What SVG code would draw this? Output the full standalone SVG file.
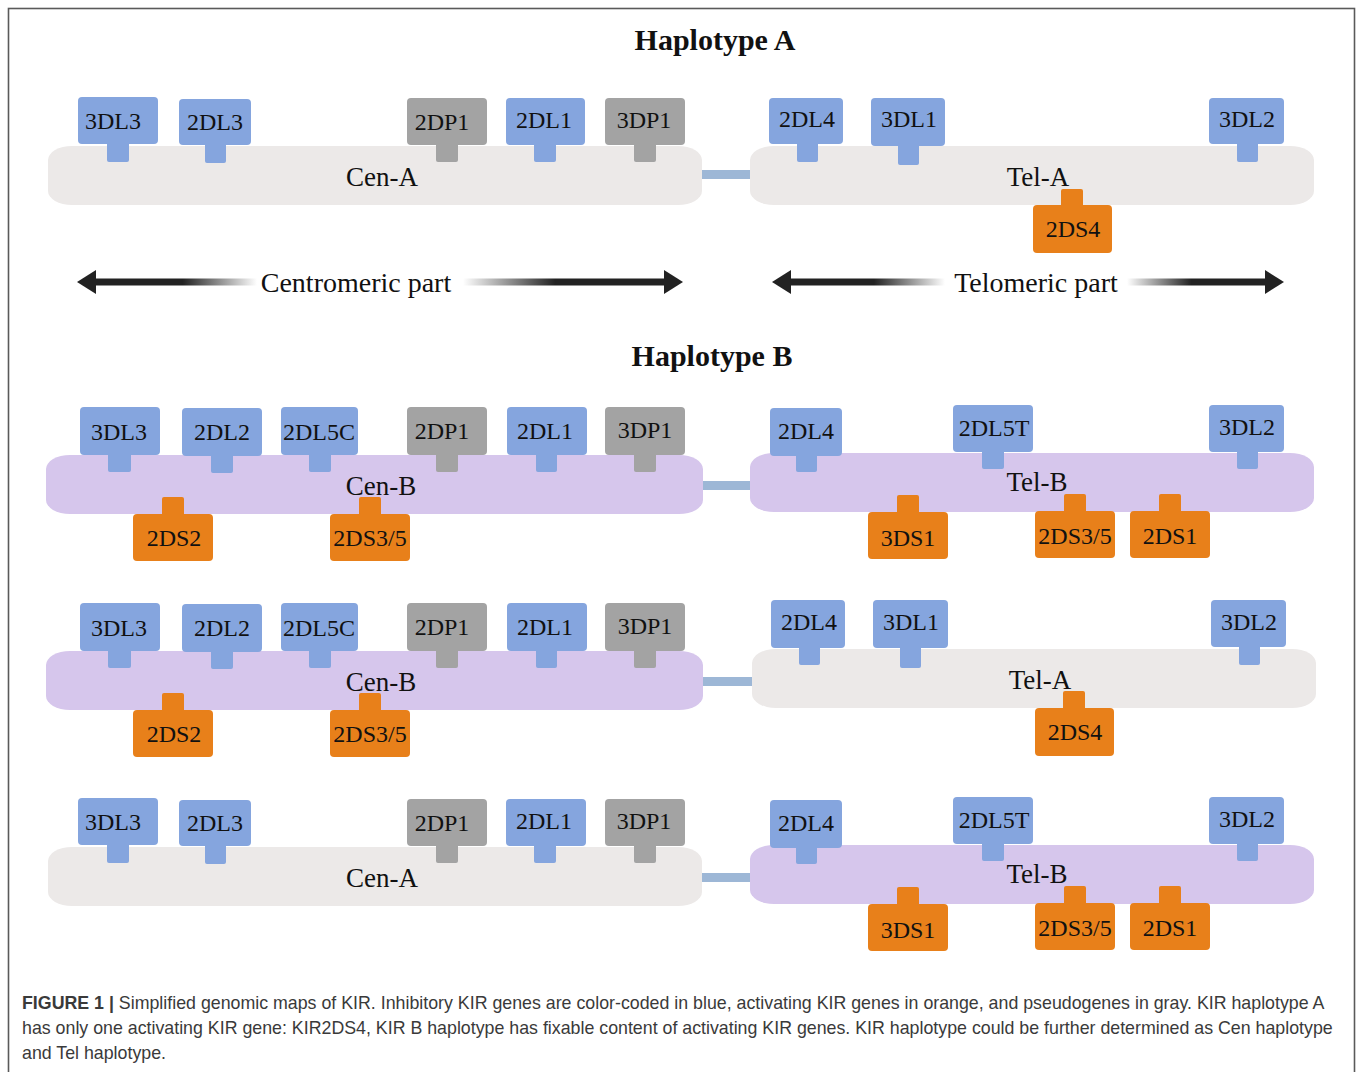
<svg xmlns="http://www.w3.org/2000/svg" width="1358" height="1072" viewBox="0 0 1358 1072">
<style>
.bg{fill:#ffffff}
.frame{fill:none;stroke:#5a5a5a;stroke-width:1.6}
.barA{fill:#ece9e8}
.barB{fill:#d6c6ec}
.b{fill:#85a5de}
.g{fill:#a3a3a3}
.o{fill:#e8801a}
.lnk{fill:#9db7d6}
.gl{font-family:"Liberation Serif","Times New Roman",serif;font-size:24px;fill:#111;text-anchor:middle}
.bl{font-family:"Liberation Serif","Times New Roman",serif;font-size:27px;fill:#111;text-anchor:middle}
.title{font-family:"Liberation Serif","Times New Roman",serif;font-size:30px;font-weight:bold;fill:#111;text-anchor:middle}
.part{font-family:"Liberation Serif","Times New Roman",serif;font-size:28px;fill:#111;text-anchor:middle}
.cap{font-family:"Liberation Sans",Arial,sans-serif;font-size:17.8px;fill:#3a3a3a}
.capb{font-weight:bold}
.ah{fill:#222}
</style>
<defs>
<linearGradient id="fadeR" x1="0" y1="0" x2="1" y2="0">
<stop offset="0" stop-color="#222"/>
<stop offset="0.55" stop-color="#222"/>
<stop offset="1" stop-color="#fff"/>
</linearGradient>
<linearGradient id="fadeL" x1="0" y1="0" x2="1" y2="0">
<stop offset="0" stop-color="#fff"/>
<stop offset="0.45" stop-color="#222"/>
<stop offset="1" stop-color="#222"/>
</linearGradient>
</defs>
<rect class="bg" x="0" y="0" width="1358" height="1072"/>
<rect class="frame" x="8.5" y="8.5" width="1346" height="1080"/>

<text class="title" x="715" y="50">Haplotype A</text>
<text class="title" x="712" y="366">Haplotype B</text>

<g id="connectors">
<rect class="lnk" x="700" y="170" width="52" height="9"/>
<rect class="lnk" x="701" y="481" width="51" height="9"/>
<rect class="lnk" x="701" y="677" width="53" height="9"/>
<rect class="lnk" x="700" y="873" width="52" height="9"/>
<g id="centromeric-arrows">
<rect x="92" y="278.5" width="165" height="7" fill="url(#fadeR)"/>
<polygon class="ah" points="77,282 96,270 96,294"/>
<rect x="463" y="278.5" width="205" height="7" fill="url(#fadeL)"/>
<polygon class="ah" points="683,282 664,270 664,294"/>
</g>
<g id="telomeric-arrows">
<rect x="787" y="278.5" width="158" height="7" fill="url(#fadeR)"/>
<polygon class="ah" points="772,282 791,270 791,294"/>
<rect x="1127" y="278.5" width="143" height="7" fill="url(#fadeL)"/>
<polygon class="ah" points="1284,282 1265,270 1265,294"/>
</g>
</g>
<text class="part" x="356" y="292">Centromeric part</text>
<text class="part" x="1036" y="292">Telomeric part</text>

<!-- Haplotype A -->
<g id="cenA1"><rect class="barA" x="48" y="146" width="654" height="59" rx="24" ry="14"/><text class="bl" x="382" y="186">Cen-A</text></g>
<g id="telA1"><rect class="barA" x="750" y="146" width="564" height="59" rx="24" ry="14"/><text class="bl" x="1038" y="186">Tel-A</text></g>
<g id="a-3DL3"><rect class="b" x="107" y="140" width="22" height="22" rx="2"/><rect class="b" x="78" y="97" width="80" height="47" rx="4"/><text class="gl" x="113" y="129">3DL3</text></g>
<g id="a-2DL3"><rect class="b" x="205" y="140" width="21" height="23" rx="2"/><rect class="b" x="179" y="99" width="72" height="46" rx="4"/><text class="gl" x="215" y="130">2DL3</text></g>
<g id="a-2DP1"><rect class="g" x="436" y="140" width="22" height="22" rx="2"/><rect class="g" x="407" y="98" width="80" height="47" rx="4"/><text class="gl" x="442" y="130">2DP1</text></g>
<g id="a-2DL1"><rect class="b" x="534" y="140" width="22" height="22" rx="2"/><rect class="b" x="506" y="98" width="79" height="47" rx="4"/><text class="gl" x="544" y="128">2DL1</text></g>
<g id="a-3DP1"><rect class="g" x="634" y="140" width="22" height="22" rx="2"/><rect class="g" x="605" y="98" width="80" height="47" rx="4"/><text class="gl" x="644" y="128">3DP1</text></g>
<g id="a-2DL4"><rect class="b" x="797" y="140" width="21" height="22" rx="2"/><rect class="b" x="769" y="98" width="74" height="46" rx="4"/><text class="gl" x="807" y="127">2DL4</text></g>
<g id="a-3DL1"><rect class="b" x="898" y="140" width="21" height="25" rx="2"/><rect class="b" x="871" y="98" width="74" height="48" rx="4"/><text class="gl" x="909" y="127">3DL1</text></g>
<g id="a-3DL2"><rect class="b" x="1237" y="140" width="21" height="22" rx="2"/><rect class="b" x="1209" y="98" width="75" height="46" rx="4"/><text class="gl" x="1247" y="127">3DL2</text></g>
<g id="a-2DS4"><rect class="o" x="1061" y="189" width="22" height="20" rx="2"/><rect class="o" x="1033" y="205" width="79" height="48" rx="4"/><text class="gl" x="1073" y="237">2DS4</text></g>

<!-- Haplotype B row 1 -->
<g id="cenB1"><rect class="barB" x="46" y="455" width="657" height="59" rx="24" ry="14"/><text class="bl" x="381" y="495">Cen-B</text></g>
<g id="telB1"><rect class="barB" x="750" y="453" width="564" height="59" rx="24" ry="14"/><text class="bl" x="1037" y="491">Tel-B</text></g>
<g id="b1-3DL3"><rect class="b" x="108" y="450" width="23" height="22" rx="2"/><rect class="b" x="80" y="407" width="80" height="48" rx="4"/><text class="gl" x="119" y="440">3DL3</text></g>
<g id="b1-2DL2"><rect class="b" x="211" y="450" width="22" height="23" rx="2"/><rect class="b" x="182" y="408" width="80" height="48" rx="4"/><text class="gl" x="222" y="440">2DL2</text></g>
<g id="b1-2DL5C"><rect class="b" x="309" y="450" width="22" height="22" rx="2"/><rect class="b" x="281" y="407" width="77" height="48" rx="4"/><text class="gl" x="319" y="440">2DL5C</text></g>
<g id="b1-2DP1"><rect class="g" x="436" y="450" width="22" height="22" rx="2"/><rect class="g" x="407" y="407" width="80" height="48" rx="4"/><text class="gl" x="442" y="439">2DP1</text></g>
<g id="b1-2DL1"><rect class="b" x="536" y="450" width="21" height="22" rx="2"/><rect class="b" x="507" y="407" width="80" height="48" rx="4"/><text class="gl" x="545" y="439">2DL1</text></g>
<g id="b1-3DP1"><rect class="g" x="634" y="450" width="22" height="22" rx="2"/><rect class="g" x="605" y="407" width="80" height="48" rx="4"/><text class="gl" x="645" y="438">3DP1</text></g>
<g id="b1-2DS2"><rect class="o" x="162" y="497" width="22" height="21" rx="2"/><rect class="o" x="133" y="514" width="80" height="47" rx="4"/><text class="gl" x="174" y="546">2DS2</text></g>
<g id="b1-2DS35"><rect class="o" x="359" y="497" width="22" height="21" rx="2"/><rect class="o" x="330" y="514" width="80" height="47" rx="4"/><text class="gl" x="370" y="546">2DS3/5</text></g>
<g id="b1-2DL4"><rect class="b" x="796" y="450" width="21" height="22" rx="2"/><rect class="b" x="770" y="408" width="72" height="48" rx="4"/><text class="gl" x="806" y="439">2DL4</text></g>
<g id="b1-2DL5T"><rect class="b" x="982" y="447" width="22" height="22" rx="2"/><rect class="b" x="953" y="405" width="80" height="47" rx="4"/><text class="gl" x="994" y="436">2DL5T</text></g>
<g id="b1-3DL2"><rect class="b" x="1237" y="447" width="21" height="22" rx="2"/><rect class="b" x="1209" y="405" width="75" height="47" rx="4"/><text class="gl" x="1247" y="435">3DL2</text></g>
<g id="b1-3DS1"><rect class="o" x="897" y="495" width="22" height="21" rx="2"/><rect class="o" x="868" y="512" width="80" height="47" rx="4"/><text class="gl" x="908" y="546">3DS1</text></g>
<g id="b1-2DS35t"><rect class="o" x="1064" y="494" width="22" height="21" rx="2"/><rect class="o" x="1035" y="511" width="80" height="47" rx="4"/><text class="gl" x="1075" y="544">2DS3/5</text></g>
<g id="b1-2DS1"><rect class="o" x="1159" y="494" width="22" height="21" rx="2"/><rect class="o" x="1130" y="511" width="80" height="47" rx="4"/><text class="gl" x="1170" y="544">2DS1</text></g>

<!-- Haplotype B row 2 -->
<g id="cenB2"><rect class="barB" x="46" y="651" width="657" height="59" rx="24" ry="14"/><text class="bl" x="381" y="691">Cen-B</text></g>
<g id="telA2"><rect class="barA" x="752" y="649" width="564" height="59" rx="24" ry="14"/><text class="bl" x="1040" y="689">Tel-A</text></g>
<g id="b2-3DL3"><rect class="b" x="108" y="646" width="23" height="22" rx="2"/><rect class="b" x="80" y="603" width="80" height="48" rx="4"/><text class="gl" x="119" y="636">3DL3</text></g>
<g id="b2-2DL2"><rect class="b" x="211" y="646" width="22" height="23" rx="2"/><rect class="b" x="182" y="604" width="80" height="48" rx="4"/><text class="gl" x="222" y="636">2DL2</text></g>
<g id="b2-2DL5C"><rect class="b" x="309" y="646" width="22" height="22" rx="2"/><rect class="b" x="281" y="603" width="77" height="48" rx="4"/><text class="gl" x="319" y="636">2DL5C</text></g>
<g id="b2-2DP1"><rect class="g" x="436" y="646" width="22" height="22" rx="2"/><rect class="g" x="407" y="603" width="80" height="48" rx="4"/><text class="gl" x="442" y="635">2DP1</text></g>
<g id="b2-2DL1"><rect class="b" x="536" y="646" width="21" height="22" rx="2"/><rect class="b" x="507" y="603" width="80" height="48" rx="4"/><text class="gl" x="545" y="635">2DL1</text></g>
<g id="b2-3DP1"><rect class="g" x="634" y="646" width="22" height="22" rx="2"/><rect class="g" x="605" y="603" width="80" height="48" rx="4"/><text class="gl" x="645" y="634">3DP1</text></g>
<g id="b2-2DS2"><rect class="o" x="162" y="693" width="22" height="21" rx="2"/><rect class="o" x="133" y="710" width="80" height="47" rx="4"/><text class="gl" x="174" y="742">2DS2</text></g>
<g id="b2-2DS35"><rect class="o" x="359" y="693" width="22" height="21" rx="2"/><rect class="o" x="330" y="710" width="80" height="47" rx="4"/><text class="gl" x="370" y="742">2DS3/5</text></g>
<g id="b2-2DL4"><rect class="b" x="799" y="643" width="21" height="22" rx="2"/><rect class="b" x="771" y="600" width="74" height="48" rx="4"/><text class="gl" x="809" y="630">2DL4</text></g>
<g id="b2-3DL1"><rect class="b" x="900" y="643" width="21" height="25" rx="2"/><rect class="b" x="873" y="600" width="75" height="48" rx="4"/><text class="gl" x="911" y="630">3DL1</text></g>
<g id="b2-3DL2"><rect class="b" x="1239" y="643" width="21" height="22" rx="2"/><rect class="b" x="1211" y="600" width="75" height="47" rx="4"/><text class="gl" x="1249" y="630">3DL2</text></g>
<g id="b2-2DS4"><rect class="o" x="1063" y="691" width="22" height="21" rx="2"/><rect class="o" x="1035" y="708" width="79" height="48" rx="4"/><text class="gl" x="1075" y="740">2DS4</text></g>

<!-- Haplotype B row 3 -->
<g id="cenA3"><rect class="barA" x="48" y="847" width="654" height="59" rx="24" ry="14"/><text class="bl" x="382" y="887">Cen-A</text></g>
<g id="telB3"><rect class="barB" x="750" y="845" width="564" height="59" rx="24" ry="14"/><text class="bl" x="1037" y="883">Tel-B</text></g>
<g id="b3-3DL3"><rect class="b" x="107" y="841" width="22" height="22" rx="2"/><rect class="b" x="78" y="798" width="80" height="47" rx="4"/><text class="gl" x="113" y="830">3DL3</text></g>
<g id="b3-2DL3"><rect class="b" x="205" y="841" width="21" height="23" rx="2"/><rect class="b" x="179" y="800" width="72" height="46" rx="4"/><text class="gl" x="215" y="831">2DL3</text></g>
<g id="b3-2DP1"><rect class="g" x="436" y="841" width="22" height="22" rx="2"/><rect class="g" x="407" y="799" width="80" height="47" rx="4"/><text class="gl" x="442" y="831">2DP1</text></g>
<g id="b3-2DL1"><rect class="b" x="534" y="841" width="22" height="22" rx="2"/><rect class="b" x="506" y="799" width="80" height="47" rx="4"/><text class="gl" x="544" y="829">2DL1</text></g>
<g id="b3-3DP1"><rect class="g" x="634" y="841" width="22" height="22" rx="2"/><rect class="g" x="605" y="799" width="80" height="47" rx="4"/><text class="gl" x="644" y="829">3DP1</text></g>
<g id="b3-2DL4"><rect class="b" x="796" y="842" width="21" height="22" rx="2"/><rect class="b" x="770" y="800" width="72" height="48" rx="4"/><text class="gl" x="806" y="831">2DL4</text></g>
<g id="b3-2DL5T"><rect class="b" x="982" y="839" width="22" height="22" rx="2"/><rect class="b" x="953" y="797" width="80" height="47" rx="4"/><text class="gl" x="994" y="828">2DL5T</text></g>
<g id="b3-3DL2"><rect class="b" x="1237" y="839" width="21" height="22" rx="2"/><rect class="b" x="1209" y="797" width="75" height="47" rx="4"/><text class="gl" x="1247" y="827">3DL2</text></g>
<g id="b3-3DS1"><rect class="o" x="897" y="887" width="22" height="21" rx="2"/><rect class="o" x="868" y="904" width="80" height="47" rx="4"/><text class="gl" x="908" y="938">3DS1</text></g>
<g id="b3-2DS35t"><rect class="o" x="1064" y="886" width="22" height="21" rx="2"/><rect class="o" x="1035" y="903" width="80" height="47" rx="4"/><text class="gl" x="1075" y="936">2DS3/5</text></g>
<g id="b3-2DS1"><rect class="o" x="1159" y="886" width="22" height="21" rx="2"/><rect class="o" x="1130" y="903" width="80" height="47" rx="4"/><text class="gl" x="1170" y="936">2DS1</text></g>

<g id="caption">
<text class="cap" x="22" y="1009"><tspan class="capb">FIGURE 1 |</tspan> Simplified genomic maps of KIR. Inhibitory KIR genes are color-coded in blue, activating KIR genes in orange, and pseudogenes in gray. KIR haplotype A</text>
<text class="cap" x="22" y="1034">has only one activating KIR gene: KIR2DS4, KIR B haplotype has fixable content of activating KIR genes. KIR haplotype could be further determined as Cen haplotype</text>
<text class="cap" x="22" y="1059">and Tel haplotype.</text>
</g>
</svg>
